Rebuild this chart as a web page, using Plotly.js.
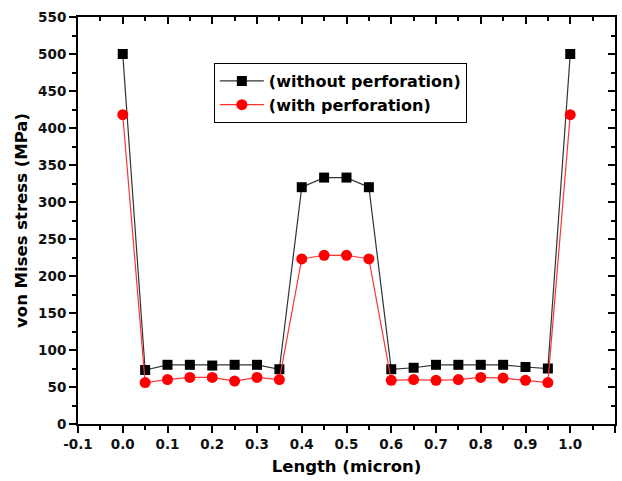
<!DOCTYPE html>
<html>
<head>
<meta charset="utf-8">
<script src="https://cdn.plot.ly/plotly-3.0.1.min.js"></script>
<style>html,body{margin:0;padding:0;background:#fff;}#chart{width:622px;height:481px;}</style>
</head>
<body>
<div id="chart"></div>
<script>
var lengthMicron = [0.0, 0.05, 0.1, 0.15, 0.2, 0.25, 0.3, 0.35, 0.4, 0.45, 0.5, 0.55, 0.6, 0.65, 0.7, 0.75, 0.8, 0.85, 0.9, 0.95, 1.0];
var withoutPerforation = [500, 73, 80, 80, 79, 80, 80, 74, 320, 333, 333, 320, 74, 76, 80, 80, 80, 80, 77, 75, 500];
var withPerforation = [418, 56, 60, 63, 63, 58, 63, 60, 223, 228, 228, 223, 59, 60, 59, 60, 63, 62, 59, 56, 418];
var seriesNames = ['(without perforation)', '(with perforation)'];
var xTickVals = [-0.1, 0.0, 0.1, 0.2, 0.3, 0.4, 0.5, 0.6, 0.7, 0.8, 0.9, 1.0, 1.1];
var xTickText = ['-0.1', '0.0', '0.1', '0.2', '0.3', '0.4', '0.5', '0.6', '0.7', '0.8', '0.9', '1.0', '1.1'];

var font = 'DejaVu Sans, Liberation Sans, Arial, sans-serif';
var traces = [
  {x: lengthMicron, y: withoutPerforation, name: seriesNames[0], mode: 'lines+markers',
   line: {color: '#333333', width: 1.2}, marker: {symbol: 'square', size: 10, color: '#000000'}},
  {x: lengthMicron, y: withPerforation, name: seriesNames[1], mode: 'lines+markers',
   line: {color: '#ff3333', width: 1.2}, marker: {symbol: 'circle', size: 11, color: '#ff0000'}},
  {x: [], y: [], xaxis: 'x2', yaxis: 'y2', showlegend: false, hoverinfo: 'skip'}
];
var tickFont = {family: font, size: 13.5, color: '#111', weight: 'bold'};
var layout = {
  width: 622, height: 481,
  margin: {l: 78, r: 7, t: 17, b: 57},
  paper_bgcolor: '#fff', plot_bgcolor: '#fff',
  showlegend: true,
  legend: {x: 0.253, y: 0.887, xanchor: 'left', yanchor: 'top', bordercolor: '#000', borderwidth: 1,
           bgcolor: '#fff', font: {family: font, size: 16, color: '#000', weight: 'bold'},
           tracegroupgap: 0, itemwidth: 44},
  xaxis: {range: [-0.1, 1.1], tickmode: 'array', tickvals: xTickVals, ticktext: xTickText, showgrid: false, zeroline: false,
          showline: true, linecolor: '#000', linewidth: 2, ticks: 'outside', ticklen: 7, tickwidth: 2, tickcolor: '#000',
          minor: {dtick: 0.05, tick0: -0.1, ticks: 'outside', ticklen: 4, tickwidth: 2, tickcolor: '#000'},
          tickfont: tickFont,
          title: {text: 'Length (micron)', font: {family: font, size: 16.5, color: '#000', weight: 'bold'}, standoff: 9}},
  yaxis: {range: [0, 550], dtick: 50, showgrid: false, zeroline: false,
          showline: true, linecolor: '#000', linewidth: 2, ticks: 'outside', ticklen: 7, tickwidth: 2, tickcolor: '#000',
          minor: {dtick: 25, ticks: 'outside', ticklen: 4, tickwidth: 2, tickcolor: '#000'},
          tickfont: tickFont,
          title: {text: 'von Mises stress (MPa)', font: {family: font, size: 16.5, color: '#000', weight: 'bold'}, standoff: 6}},
  xaxis2: {overlaying: 'x', side: 'top', anchor: 'y', range: [-0.1, 1.1], dtick: 0.1, tick0: -0.1, showticklabels: false,
           showgrid: false, zeroline: false, showline: true, linecolor: '#000', linewidth: 2,
           ticks: 'inside', ticklen: 7, tickwidth: 2, tickcolor: '#000',
           minor: {dtick: 0.05, ticks: 'inside', ticklen: 4, tickwidth: 2, tickcolor: '#000'}},
  yaxis2: {overlaying: 'y', side: 'right', anchor: 'x', range: [0, 550], dtick: 50, showticklabels: false,
           showgrid: false, zeroline: false, showline: true, linecolor: '#000', linewidth: 2,
           ticks: 'inside', ticklen: 7, tickwidth: 2, tickcolor: '#000',
           minor: {dtick: 25, ticks: 'inside', ticklen: 4, tickwidth: 2, tickcolor: '#000'}}
};
Plotly.newPlot('chart', traces, layout, {displayModeBar: false, staticPlot: true});
</script>
</body>
</html>
